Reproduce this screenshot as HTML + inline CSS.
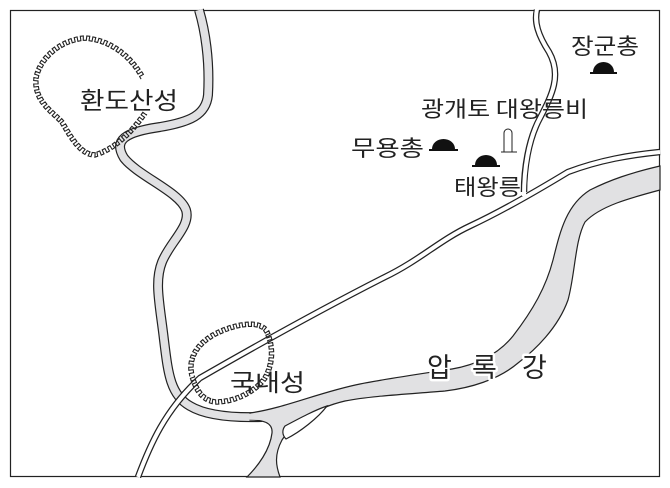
<!DOCTYPE html>
<html><head><meta charset="utf-8"><style>
html,body{margin:0;padding:0;background:#fff;}
svg{display:block;}
text{font-family:"Noto Sans CJK KR","Liberation Sans",sans-serif;fill:#222;}
</style></head><body>
<svg id="s" width="670" height="488" viewBox="0 0 670 488" xmlns="http://www.w3.org/2000/svg">
<rect x="10.5" y="10.5" width="649" height="466" fill="#fff" stroke="#222" stroke-width="1.2"/>
<path d="M199,10 C205,30 210,60 208,95 C206,115 190,122 160,127 C125,132 113,140 124,158 C138,176 180,192 186,210 C191,226 170,242 162,262 C154,282 160,305 164,340 C168,372 170,395 190,406 C205,415 230,418 262,417" fill="none" stroke="#222" stroke-width="10"/>
<path d="M199,10 C205,30 210,60 208,95 C206,115 190,122 160,127 C125,132 113,140 124,158 C138,176 180,192 186,210 C191,226 170,242 162,262 C154,282 160,305 164,340 C168,372 170,395 190,406 C205,415 230,418 262,417" fill="none" stroke="#e1e1e3" stroke-width="7.6"/>
<path d="M250,413 C285,408 320,392 360,384 C385,379 420,374 452,369 C480,364 500,352 513,336 C533,310 546,287 553,260 C560,232 566,205 590,190 C610,180 630,173 660,166 L660,190 C630,198 600,206 585,222 C575,240 575,275 568,300 C558,328 535,350 518,363 C498,380 470,388 445,391 C410,394 370,396 345,401 C315,408 292,424 282,440 C274,455 276,466 280,477 L247,477 C258,466 270,450 272,433 C273,422 262,420 250,420 Z" fill="#e1e1e3" stroke="#222" stroke-width="1.2"/>
<path d="M240,416.5 L262,417" stroke="#e1e1e3" stroke-width="6"/>
<path d="M285,426 C300,418 315,410 327,406 C318,418 300,432 286,439 C282,435 282,430 285,426 Z" fill="#fff" stroke="#222" stroke-width="1.2"/>
<g fill="none">
<path d="M138,477 C150,445 165,410 200,378 C240,355 320,310 385,277 C420,260 440,240 470,226 C500,212 530,195 568,172 C600,160 630,155 660,152" stroke="#222" stroke-width="6.5"/>
<path d="M138,477 C150,445 165,410 200,378 C240,355 320,310 385,277 C420,260 440,240 470,226 C500,212 530,195 568,172 C600,160 630,155 660,152" stroke="#fff" stroke-width="4"/>
<path d="M524,192 C524,170 528,140 540,118 C552,95 562,75 549,52 C538,35 534,22 537,10" stroke="#222" stroke-width="6.5"/>
<path d="M524,196 C524,170 528,140 540,118 C552,95 562,75 549,52 C538,35 534,22 537,9" stroke="#fff" stroke-width="4"/>
</g>
<path id="f1" d="M143,78 C130,55 110,40 85,38 C60,40 40,58 36,78 C34,100 50,110 62,122 C72,140 82,155 95,155 C112,150 130,135 145,113" fill="none" stroke="none"/>
<path id="f2" d="M192,376 C188,360 195,345 215,334 C235,324 258,320 266,330 C272,342 275,360 265,378 C255,392 235,402 215,402 C202,400 196,390 192,376 Z" fill="none" stroke="none"/>
<g id="walls" fill="none" stroke="#222" stroke-width="1.1"></g>
<g fill="#111">
<path d="M590,74 h27 v-2 h-3 a10.5,10 0 0 0 -21,0 h-3 z"/>
<path d="M429,151 h29 v-2 h-3 a11.5,10 0 0 0 -23,0 h-3 z"/>
<path d="M472,167 h28 v-2 h-3 a11,10 0 0 0 -22,0 h-3 z"/>
</g>
<path d="M501,152 h16 M504,152 v-19 a4,4 0 0 1 8,0 v19" fill="none" stroke="#222" stroke-width="1"/>
<text x="80" y="109" font-size="24" textLength="98" lengthAdjust="spacingAndGlyphs">환도산성</text>
<text x="230" y="391" font-size="24" textLength="75" lengthAdjust="spacingAndGlyphs">국내성</text>
<text x="571" y="54" font-size="22" textLength="68" lengthAdjust="spacingAndGlyphs">장군총</text>
<text x="421" y="117" font-size="22" textLength="167" lengthAdjust="spacingAndGlyphs">광개토 대왕릉비</text>
<text x="351" y="156" font-size="22" textLength="73" lengthAdjust="spacingAndGlyphs">무용총</text>
<text x="454" y="195" font-size="22" textLength="67" lengthAdjust="spacingAndGlyphs">태왕릉</text>
<g font-size="27" style="font-family:'Noto Serif CJK SC',serif;paint-order:stroke;stroke:#fff;stroke-width:5px;stroke-linejoin:round;">
<text x="427" y="377">압</text><text x="472" y="377">록</text><text x="522" y="377">강</text>
</g>
</svg>
<script>
(function(){
var ns="http://www.w3.org/2000/svg",g=document.getElementById("walls");
["f1","f2"].forEach(function(id){
var p=document.getElementById(id),L=p.getTotalLength(),step=3,a=2.2,d="",n=Math.floor(L/step);
for(var i=0;i<=n;i++){
var s=i*step,q=p.getPointAtLength(Math.min(s,L)),q2=p.getPointAtLength(Math.min(s+0.5,L)),q1=p.getPointAtLength(Math.max(s-0.5,0));
var dx=q2.x-q1.x,dy=q2.y-q1.y,m=Math.hypot(dx,dy)||1,nx=-dy/m,ny=dx/m,o=(i%2?a:-a);
var q3=p.getPointAtLength(Math.min(s+step,L));
var x1=q.x+nx*o,y1=q.y+ny*o,x2=q3.x+nx*o,y2=q3.y+ny*o;
d+=(i?"L":"M")+x1.toFixed(1)+","+y1.toFixed(1)+"L"+x2.toFixed(1)+","+y2.toFixed(1);
}
var e=document.createElementNS(ns,"path");e.setAttribute("d",d);g.appendChild(e);
});
})();
</script>
</body></html>
